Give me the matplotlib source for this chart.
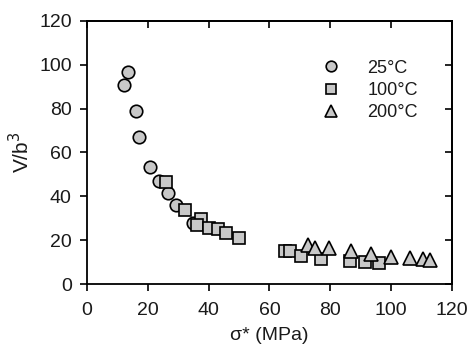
import matplotlib
matplotlib.use("Agg")
import matplotlib.pyplot as plt

plt.rcParams['font.family'] = ['Liberation Sans', 'DejaVu Sans']

# 25°C
x_25 = [13.4, 12.3, 16.1, 17.1, 20.8, 23.6, 26.6, 29.3, 35.0]
y_25 = [96.5, 90.7, 79.0, 67.2, 53.3, 46.9, 41.4, 35.9, 28.0]

# 100°C
x_100 = [26.1, 32.3, 37.4, 36.3, 40.2, 43.2, 45.6, 50.1, 65.1, 66.8, 70.3, 77.0, 86.5, 91.4, 96.1]
y_100 = [46.6, 33.8, 29.5, 26.7, 25.4, 25.0, 23.4, 21.0, 15.1, 15.1, 12.9, 11.6, 10.7, 10.0, 9.4]

# 200°C
x_200 = [72.6, 74.8, 79.6, 86.8, 93.3, 100.0, 106.3, 110.6, 112.8]
y_200 = [17.6, 16.2, 16.2, 14.9, 13.7, 12.5, 11.7, 11.2, 10.9]

fill = "#c8c8c8"
txt = "#1a1a1a"

fig = plt.figure(figsize=(4.74, 3.6), dpi=100)
ax = fig.add_axes([0.1835, 0.2111, 0.7701, 0.7306])

ax.plot(x_25, y_25, 'o', ms=9, mfc=fill, mec='black', mew=1.2, label="25°C", zorder=3)
ax.plot(x_100, y_100, 's', ms=8.5, mfc=fill, mec='black', mew=1.2, label="100°C", zorder=3)
ax.plot(x_200, y_200, '^', ms=9.5, mfc=fill, mec='black', mew=1.2, label="200°C", zorder=3)

ax.set_xlim(0, 120)
ax.set_ylim(0, 120)
ax.set_xticks(range(0, 121, 20))
ax.set_yticks(range(0, 121, 20))

ax.tick_params(axis='both', which='both', direction='out', length=5, width=1.2,
               labelsize=14, labelcolor=txt)
ax.tick_params(axis='x', pad=8)
ax.tick_params(axis='y', pad=6)
sec_x = ax.secondary_xaxis('top')
sec_x.set_xticks(range(0, 121, 20))
sec_x.tick_params(direction='in', length=5, width=1.2, labeltop=False)
sec_y = ax.secondary_yaxis('right')
sec_y.set_yticks(range(0, 121, 20))
sec_y.tick_params(direction='in', length=5, width=1.2, labelright=False)
for s in list(ax.spines.values()) + [sec_x.spines['top'], sec_y.spines['right']]:
    s.set_linewidth(1.3)

ax.set_xlabel("σ* (MPa)", fontsize=14, labelpad=6, color=txt)
ax.set_ylabel("V/b$^3$", fontsize=15, labelpad=4, color=txt)

leg = ax.legend(loc='upper left', bbox_to_anchor=(0.6, 0.915), frameon=False,
                fontsize=13, markerscale=0.85, handletextpad=1.5,
                labelspacing=0.3, handlelength=1.0)
for t in leg.get_texts():
    t.set_color(txt)

fig.savefig("out.png", dpi=100)
